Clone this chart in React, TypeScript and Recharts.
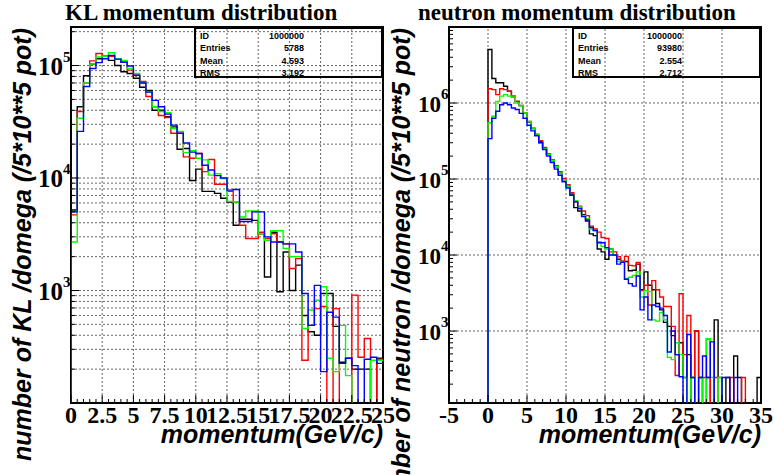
import React from "react";
import { LineChart, Line, XAxis, YAxis, ReferenceLine, ReferenceArea } from "recharts";

// both histograms use 0.5 GeV/c bins starting at 0
const BIN_WIDTH = 0.5;

// KL momentum, 50 bins over 0 - 25 GeV/c
const klBlack = [5200, 43000, 81000, 103000, 115000, 121000, 111000, 100000, 88000, 85000,
  77000, 64000, 60000, 40000, 40000, 35000, 28500, 18000, 18300, 9500,
  12000, 7600, 7600, 7300, 6600, 6100, 3800, 4300, 4300, 4200,
  3200, 1320, 3300, 975, 2200, 1000, 1680, 600, 430, 400,
  940, 940, 480, 230, 250, 200, 200, 200, 0, 250];
const klRed = [4700, 39000, 70000, 110000, 128000, 121000, 121000, 115000, 107000, 91000,
  82000, 72000, 53000, 43000, 36000, 34500, 25000, 25000, 15400, 15000,
  16500, 11400, 14600, 8800, 8800, 7600, 6100, 3800, 2900, 2900,
  3300, 2900, 3200, 2700, 2600, 1570, 1920, 240, 490, 690,
  720, 0, 690, 0, 0, 910, 255, 375, 0, 245];
const klGreen = [2700, 34000, 70000, 103000, 119000, 121000, 130000, 115000, 111000, 94000,
  85000, 70000, 58000, 43000, 39000, 38000, 27500, 26000, 16800, 17500,
  15000, 14500, 10600, 10900, 9900, 6200, 6100, 4500, 5100, 5100,
  3200, 2800, 3400, 3400, 2360, 2000, 2000, 460, 670, 820,
  1080, 250, 190, 490, 175, 0, 0, 0, 240, 240];
const klBlue = [5000, 26000, 65000, 94000, 106000, 115000, 123000, 114000, 107000, 99000,
  82000, 70000, 58000, 49000, 43000, 37000, 29500, 25000, 20500, 17000,
  16500, 13000, 11800, 10500, 10000, 7800, 7900, 4100, 4100, 5000,
  5000, 3000, 2700, 2700, 2600, 2600, 2200, 940, 490, 1110,
  190, 640, 580, 225, 250, 215, 0, 245, 255, 225];

// neutron momentum, 70 bins over 0 - 35 GeV/c
const nBlack = [5060000, 2100000, 1850000, 1850000, 1660000, 1430000, 1230000, 1050000, 930000, 730000,
  560000, 460000, 380000, 310000, 255000, 210000, 175000, 145000, 120000, 98000,
  80000, 63000, 42000, 38000, 34000, 28000, 19000, 18000, 12000, 11000,
  8800, 12000, 10000, 8800, 8300, 8200, 6200, 6300, 7600, 3500,
  6000, 4000, 3500, 2300, 1900, 1300, 1150, 870, 490, 700,
  245, 490, 0, 1000, 245, 0, 245, 0, 1400, 245,
  0, 245, 0, 470, 245, 0, 0, 0, 0, 245];
const nRed = [1540000, 1500000, 1290000, 1540000, 1500000, 1430000, 1200000, 1050000, 920000, 740000,
  570000, 470000, 390000, 320000, 260000, 215000, 180000, 150000, 125000, 102000,
  84000, 66000, 50000, 44000, 38000, 33000, 24000, 22000, 20000, 17000,
  16500, 11000, 11000, 9500, 8100, 9600, 7300, 7200, 8000, 3400,
  4000, 2200, 4600, 3500, 2800, 2100, 2100, 1150, 260, 3100,
  490, 1600, 245, 1000, 0, 245, 790, 0, 245, 0,
  0, 0, 245, 0, 0, 245, 0, 0, 0, 0];
const nGreen = [550000, 670000, 1050000, 1230000, 1290000, 1230000, 1200000, 1000000, 920000, 740000,
  570000, 470000, 390000, 300000, 250000, 210000, 175000, 145000, 120000, 98000,
  79000, 61000, 52000, 43000, 33000, 30000, 22000, 21000, 15000, 13000,
  12000, 12000, 10000, 8200, 8000, 4900, 5100, 5400, 6000, 2800,
  3400, 3300, 1400, 1350, 1750, 1400, 450, 420, 700, 490,
  245, 0, 245, 0, 245, 0, 790, 245, 0, 245,
  0, 0, 0, 0, 0, 0, 0, 0, 0, 0];
const nBlue = [340000, 630000, 780000, 950000, 1000000, 950000, 860000, 820000, 730000, 630000,
  510000, 430000, 370000, 300000, 245000, 200000, 165000, 135000, 112000, 92000,
  76000, 61000, 50000, 41000, 32000, 29000, 23000, 21000, 14500, 14500,
  12500, 10000, 10000, 7600, 8000, 4800, 4200, 3900, 5300, 1900,
  2800, 1400, 2200, 2100, 2000, 1600, 530, 1000, 490, 250,
  0, 900, 245, 0, 245, 470, 245, 720, 0, 0,
  245, 245, 0, 245, 0, 0, 0, 0, 0, 0];

// axis ticks
const klXMajor = [0, 2.5, 5, 7.5, 10, 12.5, 15, 17.5, 20, 22.5, 25];
const nXMajor = [-5, 0, 5, 10, 15, 20, 25, 30, 35];
const klDecades = [100, 1000, 10000, 100000];
const nDecades = [100, 1000, 10000, 100000, 1000000, 10000000];
const klYLabeled = [1000, 10000, 100000];
const nYLabeled = [1000, 10000, 100000, 1000000];

const klStats = [["ID", "1000000"], ["Entries", "5788"], ["Mean", "4.593"], ["RMS", "3.192"]];
const nStats = [["ID", "1000000"], ["Entries", "93980"], ["Mean", "2.554"], ["RMS", "2.712"]];

const COLORS = { black: "#000000", red: "#ff0000", green: "#00ff00", blue: "#0000ff" };
const SERIF = "'Liberation Serif', 'Times New Roman', serif";
const SANS = "'Liberation Sans', Arial, sans-serif";
const FLOOR = 1; // empty bins fall below the log axis and get clipped

type Series = Record<string, number[]>;

// step-histogram rows: rise from the floor at x=0, one row per bin low edge, closing row at the top edge
function histRows(series: Series) {
  const names = Object.keys(series);
  const n = series[names[0]].length;
  const row = (x: number, pick: (name: string) => number) => {
    const r: Record<string, number> = { x };
    names.forEach((name) => (r[name] = Math.max(pick(name), FLOOR)));
    return r;
  };
  const rows = [row(0, () => FLOOR)];
  for (let i = 0; i < n; i++) rows.push(row(i * BIN_WIDTH, (name) => series[name][i]));
  rows.push(row(n * BIN_WIDTH, (name) => series[name][n - 1]));
  return rows;
}

function steps(from: number, to: number, step: number) {
  const out: number[] = [];
  for (let v = from; v <= to + 1e-9; v += step) out.push(Math.round(v * 100) / 100);
  return out;
}

function logTicks(decades: number[], lo: number, hi: number) {
  const out: number[] = [];
  decades.forEach((d) => {
    for (let m = 1; m < 10; m++) {
      const v = d * m;
      if (v >= lo && v <= hi) out.push(v);
    }
  });
  return out;
}

const XTick = (props: any) => {
  const { x, y, payload, major } = props;
  const isMajor = major.includes(payload.value);
  return (
    <g>
      <line x1={x} x2={x} y1={y} y2={y - (isMajor ? 8 : 4)} stroke="#000" strokeWidth={1} />
      {isMajor && (
        <text x={x} y={y + 20} textAnchor="middle" fontFamily={SERIF} fontWeight="bold" fontSize={24} fill="#000">
          {String(payload.value)}
        </text>
      )}
    </g>
  );
};

// "10" with the exponent raised after it, plus an inward tick mark
const YTick = (props: any) => {
  const { x, y, payload, labeled, size } = props;
  const v = payload.value;
  const exp = Math.round(Math.log10(v));
  const isDecade = Math.abs(v - Math.pow(10, exp)) < 1e-6 * v;
  const showLabel = isDecade && labeled.includes(v);
  return (
    <g>
      <line x1={x} x2={x + (isDecade ? 8 : 4)} y1={y} y2={y} stroke="#000" strokeWidth={1} />
      {showLabel && (
        <g fontFamily={SERIF} fontWeight="bold" fill="#000">
          <text x={x - 8} y={y + 9} textAnchor="end" fontSize={size}>10</text>
          <text x={x - 8} y={y - 4} fontSize={15}>{exp}</text>
        </g>
      )}
    </g>
  );
};

type PanelProps = {
  left: number;
  right: number;
  xDomain: [number, number];
  yDomain: [number, number];
  xTicks: number[];
  xMajor: number[];
  yTicks: number[];
  yLabeled: number[];
  yLabelSize: number;
  xGrid: number[];
  yGrid: number[];
  rows: Record<string, number>[];
};

function Panel(p: PanelProps) {
  return (
    <div style={{ position: "absolute", left: 0, top: 0 }}>
      {/* axes get a 1px band so they still render; the plot box itself is set by the margins */}
      <LineChart width={774} height={475} data={p.rows} margin={{ top: 27, bottom: 71, left: p.left - 1, right: p.right }}>
        <XAxis
          type="number"
          dataKey="x"
          domain={p.xDomain}
          ticks={p.xTicks}
          interval={0}
          height={1}
          tickSize={0}
          tickMargin={0}
          axisLine={false}
          tickLine={false}
          allowDataOverflow
          tick={(t: any) => <XTick {...t} major={p.xMajor} />}
        />
        <YAxis
          type="number"
          scale="log"
          domain={p.yDomain}
          ticks={p.yTicks}
          interval={0}
          width={1}
          tickSize={0}
          tickMargin={0}
          axisLine={false}
          tickLine={false}
          allowDataOverflow
          tick={(t: any) => <YTick {...t} labeled={p.yLabeled} size={p.yLabelSize} />}
        />
        {p.xGrid.map((v) => (
          <ReferenceLine key={"gx" + v} x={v} stroke="#666" strokeDasharray="2 2" strokeWidth={1} />
        ))}
        {p.yGrid.map((v) => (
          <ReferenceLine key={"gy" + v} y={v} stroke="#666" strokeDasharray="2 2" strokeWidth={1} />
        ))}
        {(["black", "red", "green", "blue"] as const).map((c) => (
          <Line
            key={c}
            type="stepAfter"
            dataKey={c}
            stroke={COLORS[c]}
            strokeWidth={1.4}
            dot={false}
            activeDot={false}
            isAnimationActive={false}
          />
        ))}
        <ReferenceArea
          x1={p.xDomain[0]}
          x2={p.xDomain[1]}
          y1={p.yDomain[0]}
          y2={p.yDomain[1]}
          fill="none"
          fillOpacity={0}
          stroke="#000"
          strokeWidth={2}
        />
      </LineChart>
    </div>
  );
}

function StatsBox({ left, rows }: { left: number; rows: string[][] }) {
  return (
    <div
      style={{
        position: "absolute",
        left,
        top: 27,
        width: 189,
        height: 51,
        boxSizing: "border-box",
        border: "2px solid #000",
        fontFamily: SANS,
        fontWeight: "bold",
        fontSize: 9,
        color: "#000",
      }}
    >
      {rows.map(([k, v], i) => (
        <div key={k} style={{ position: "absolute", left: 4, top: 1 + i * 12.3, width: 104, lineHeight: "12px" }}>
          <span>{k}</span>
          <span style={{ position: "absolute", right: 0 }}>{v}</span>
        </div>
      ))}
    </div>
  );
}

const klRows = histRows({ black: klBlack, red: klRed, green: klGreen, blue: klBlue });
const nRows = histRows({ black: nBlack, red: nRed, green: nGreen, blue: nBlue });

export default function App() {
  const klY: [number, number] = [100, 220000];
  const nY: [number, number] = [113, 10000000];
  const klYTicks = logTicks(klDecades, klY[0], klY[1]);
  const nYTicks = logTicks(nDecades, nY[0], nY[1]);
  return (
    <div style={{ position: "absolute", left: 0, top: 0, width: 774, height: 475, background: "#fff", overflow: "hidden" }}>
      <Panel
        left={71}
        right={391}
        xDomain={[0, 25]}
        yDomain={klY}
        xTicks={steps(0, 25, 0.5)}
        xMajor={klXMajor}
        yTicks={klYTicks}
        yLabeled={klYLabeled}
        yLabelSize={25}
        xGrid={klXMajor.slice(1, -1)}
        yGrid={klYTicks.filter((v) => v > klY[0])}
        rows={klRows}
      />
      <Panel
        left={449}
        right={13}
        xDomain={[-5, 35]}
        yDomain={nY}
        xTicks={steps(-5, 35, 1)}
        xMajor={nXMajor}
        yTicks={nYTicks}
        yLabeled={nYLabeled}
        yLabelSize={23}
        xGrid={nXMajor.slice(1, -1)}
        yGrid={nYLabeled}
        rows={nRows}
      />
      <svg width={774} height={475} style={{ position: "absolute", left: 0, top: 0 }}>
        <g fontFamily={SERIF} fontWeight="bold" fontSize={23} fill="#000">
          <text x={65} y={20}>KL momentum distribution</text>
          <text x={418} y={20}>neutron momentum distribution</text>
        </g>
        <g fontFamily={SANS} fontWeight="bold" fontStyle="italic" fontSize={25} fill="#000">
          <text x={383} y={443} textAnchor="end">momentum(GeV/c)</text>
          <text x={761} y={443} textAnchor="end">momentum(GeV/c)</text>
          <text transform="rotate(-90)" x={-28} y={31} textAnchor="end">number of KL /domega (/5*10**5 pot)</text>
          <text transform="rotate(-90)" x={-28} y={410} textAnchor="end">number of neutron /domega (/5*10**5 pot)</text>
        </g>
      </svg>
      <StatsBox left={194} rows={klStats} />
      <StatsBox left={572} rows={nStats} />
    </div>
  );
}
